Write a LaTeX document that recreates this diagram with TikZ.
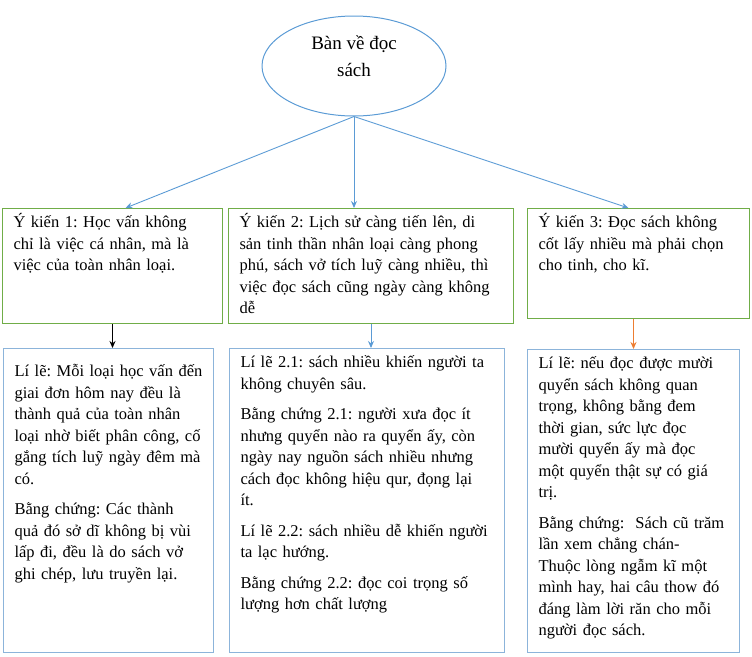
\documentclass[tikz,border=0pt]{standalone}
\usepackage{fontspec}
\setmainfont{Liberation Serif}
\frenchspacing
\usetikzlibrary{shapes.geometric, arrows.meta}
\definecolor{sky}{RGB}{91, 155, 213}
\definecolor{leaf}{RGB}{112, 173, 71}
\definecolor{amber}{RGB}{237, 125, 49}
\definecolor{pale}{RGB}{140, 180, 218}

\tikzset{
  txt/.style={font=\fontsize{16.5}{21.5}\selectfont},
  ykien/.style={txt, draw=leaf, line width=1pt, anchor=north west, align=left,
    inner xsep=11pt, inner ysep=8pt, text height=11pt},
  lile/.style={txt, draw=pale, line width=1pt, anchor=north west, align=left,
    inner xsep=11pt, inner ysep=8pt, text height=11pt},
  link/.style={sky, line width=0.9pt, -{Stealth[length=7pt, width=6pt]}}
}

\begin{document}
\begin{tikzpicture}[x=1pt, y=-1pt]
  \useasboundingbox (0, 0) rectangle (752, 656);

  % chu de
  \node[ellipse, draw=sky, line width=1pt, minimum width=184pt, minimum height=100pt,
    align=center, font=\fontsize{19}{27}\selectfont] (title) at (354, 66) {Bàn về đọc\\sách\\[-8pt]};

  % cac y kien
  \node[ykien, text width=198pt, text depth=88pt] (yk1) at (2, 208)
    {Ý kiến 1: Học vấn không\\chỉ là việc cá nhân, mà là\\việc của toàn nhân loại.};
  \node[ykien, text width=263pt, text depth=88pt] (yk2) at (228, 208)
    {Ý kiến 2: Lịch sử càng tiến lên, di\\sản tinh thần nhân loại càng phong\\phú, sách vở tích luỹ càng nhiều, thì\\việc đọc sách cũng ngày càng không\\dễ};
  \node[ykien, text width=200pt, text depth=83pt] (yk3) at (527, 208)
    {Ý kiến 3: Đọc sách không\\cốt lấy nhiều mà phải chọn\\cho tinh, cho kĩ.};

  % li le va bang chung
  \node[lile, text width=188pt, text height=20pt, text depth=268pt] (ll1) at (3, 348)
    {Lí lẽ: Mỗi loại học vấn đến\\giai đơn hôm nay đều là\\thành quả của toàn nhân\\loại nhờ biết phân công, cố\\gắng tích luỹ ngày đêm mà\\có.\\[9pt]
     Bằng chứng: Các thành\\quả đó sở dĩ không bị vùi\\lấp đi, đều là do sách vở\\ghi chép, lưu truyền lại.};
  \node[lile, text width=253pt, text depth=277pt] (ll2) at (229, 348)
    {Lí lẽ 2.1: sách nhiều khiến người ta\\không chuyên sâu.\\[9pt]
     Bằng chứng 2.1: người xưa đọc ít\\nhưng quyển nào ra quyển ấy, còn\\ngày nay nguồn sách nhiều nhưng\\cách đọc không hiệu qur, đọng lại\\ít.\\[9pt]
     Lí lẽ 2.2: sách nhiều dễ khiến người\\ta lạc hướng.\\[9pt]
     Bằng chứng 2.2: đọc coi trọng số\\lượng hơn chất lượng};
  \node[lile, text width=190pt, text depth=276pt] (ll3) at (527, 349)
    {Lí lẽ: nếu đọc được mười\\quyển sách không quan\\trọng, không bằng đem\\thời gian, sức lực đọc\\mười quyển ấy mà đọc\\một quyển thật sự có giá\\trị.\\[9pt]
     Bằng chứng:~ Sách cũ trăm\\lần xem chẳng chán-\\Thuộc lòng ngẫm kĩ một\\mình hay, hai câu thow đó\\đáng làm lời răn cho mỗi\\người đọc sách.};

  \draw[link] (title.south) -- ([xshift=13pt]yk1.north);
  \draw[link] (title.south) -- (title.south |- yk2.north);
  \draw[link] (title.south) -- ([xshift=-10pt]yk3.north);

  \draw[link, black] (yk1.south) -- (yk1.south |- ll1.north);
  \draw[link] (yk2.south) -- (yk2.south |- ll2.north);
  \draw[link, amber] (ll3.north |- yk3.south) -- (ll3.north);
\end{tikzpicture}
\end{document}
